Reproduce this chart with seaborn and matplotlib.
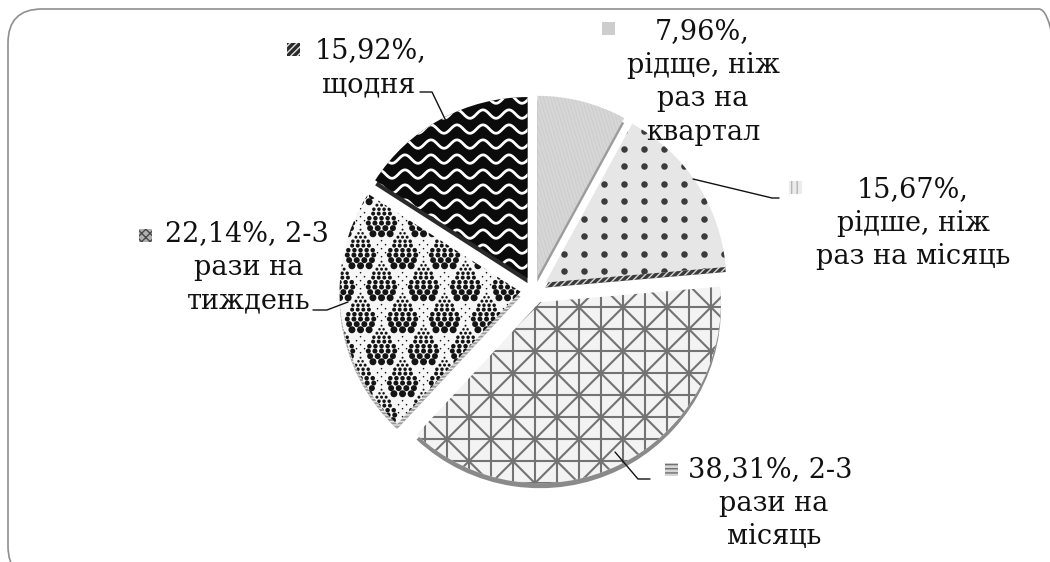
import numpy as np
import matplotlib
matplotlib.use("Agg")
import matplotlib.pyplot as plt
import seaborn as sns
from matplotlib.patches import Wedge, FancyBboxPatch, Rectangle
from matplotlib.collections import LineCollection

# --- data -------------------------------------------------------------
shares = [7.96, 15.67, 38.31, 22.14, 15.92]
categories = [
    "\nрідще, ніж\nраз на\nквартал",
    "\nрідше, ніж\nраз на місяць",
    " 2-3\nрази на\nмісяць",
    " 2-3\nрази на\nтиждень",
    "\nщодня",
]

# --- canvas -----------------------------------------------------------
sns.set_theme(style="white")
plt.rcParams["font.family"] = ["DejaVu Serif", "DejaVu Sans"]

W, H = 1050, 562
S = 181.0              # pixels per pie radius
CX, CY = 534.0, 290.0  # pie centre in pixels


def P(px, py):
    return ((px - CX) / S, (CY - py) / S)


def L(px):
    return px / S


def pt(px):
    return px * 72.0 / 100.0


fig = plt.figure(figsize=(W / 100, H / 100), dpi=100)
ax = fig.add_axes([0, 0, 1, 1])

face = ["#d6d6d6", "#e6e6e6", "#f3f3f3", "#f6f6f6", "#0b0b0b"]
side = ["#9c9c9c", "#3a3a3a", "#8a8a8a", "#9a9a9a", "#2a2a2a"]

wedges, _ = ax.pie(shares, startangle=90, counterclock=False,
                   explode=[0.075] * len(shares), radius=1.0,
                   colors=face, wedgeprops=dict(linewidth=0, zorder=2))

# --- pie thickness ---------------------------------------------------
T = 5
for i, (w, c) in enumerate(zip(wedges, side)):
    sh = Wedge((w.center[0], w.center[1] - L(T)), w.r, w.theta1, w.theta2,
               facecolor=c, edgecolor="none", zorder=1)
    ax.add_patch(sh)
    if i == 1:
        sh.set_hatch("/////")
        sh.set_edgecolor("#d8d8d8")
        sh.set_linewidth(0)
    if i == 3:
        sh.set_hatch("-----")
        sh.set_edgecolor("#e8e8e8")
        sh.set_linewidth(0)


def bbox(w):
    cx, cy = w.center
    return cx - w.r, cx + w.r, cy - w.r, cy + w.r


def clip(artist, w):
    artist.set_clip_path(w)
    artist.set_zorder(3)
    ax.add_artist(artist)


# slice 1: fine grain lines
w = wedges[0]
x0, x1, y0, y1 = bbox(w)
segs = []
for xs in np.arange(x0 - 1, x1 + 0.2, L(3.5)):
    segs.append([(xs, y1), (xs + 0.3 * (y1 - y0), y0)])
clip(LineCollection(segs, colors="#c4c4c4", linewidths=0.45, alpha=0.7), w)

# slice 2: dot grid
w = wedges[1]
x0, x1, y0, y1 = bbox(w)
gx, gy = np.meshgrid(np.arange(x0, x1, L(20)), np.arange(y0, y1, L(17.5)))
sc = ax.scatter(gx.ravel(), gy.ravel(), s=pt(6.5) ** 2, color="#3b3b3b",
                linewidths=0)
sc.set_clip_path(w)
sc.set_zorder(3)

# slice 3: square grid with diagonals
w = wedges[2]
x0, x1, y0, y1 = bbox(w)
g = L(22)
span = max(x1 - x0, y1 - y0)
segs = []
for k in range(int(span / g) + 2):
    segs.append([(x0 + k * g, y0), (x0 + k * g, y1)])
    segs.append([(x0, y0 + k * g), (x1, y0 + k * g)])
for k in range(-int(span / g) - 2, int(span / g) + 3):
    b = 2 * g * k
    segs.append([(x0, y0 + b), (x0 + 2 * span, y0 + b + 2 * span)])
    segs.append([(x0, y0 + b), (x0 + 2 * span, y0 + b - 2 * span)])
clip(LineCollection(segs, colors="#737373", linewidths=1.5), w)

# slice 4: drops made of dots
w = wedges[3]
x0, x1, y0, y1 = bbox(w)
rows = [(1, 2.0), (2, 2.5), (3, 3.0), (4, 3.5), (4, 4.0),
        (5, 4.5), (5, 5.0), (4, 6.0), (3, 7.0)]
tx, ty, ts = [], [], []
yy = -19.0
for n, d in rows:
    step = d + 1.6
    for i in range(n):
        tx.append((i - (n - 1) / 2) * step)
        ty.append(-yy)
        ts.append(d)
    yy += d / 2 + 2.6
tx, ty, ts = map(np.array, (tx, ty, ts))
px_, py_, ps_ = [], [], []
for j, cy_ in enumerate(np.arange(y0, y1 + L(40), L(32))):
    off = L(21) if j % 2 else 0
    for cx_ in np.arange(x0 + off, x1 + L(40), L(42)):
        px_.extend(cx_ + L(tx))
        py_.extend(cy_ + L(ty))
        ps_.extend(pt(ts) ** 2)
        # tiny filler dots between drops
        for ddx, ddy in [(21, 8), (21, 0), (21, -8), (17, 4), (25, 4),
                         (17, -4), (25, -4)]:
            px_.append(cx_ + L(ddx))
            py_.append(cy_ + L(ddy))
            ps_.append(pt(1.6) ** 2)
sc = ax.scatter(px_, py_, s=ps_, color="#141414", linewidths=0)
sc.set_clip_path(w)
sc.set_zorder(3)

# slice 5: white waves on black
w = wedges[4]
x0, x1, y0, y1 = bbox(w)
xs = np.linspace(x0, x1, 500)
segs = []
for yk in np.arange(y0, y1 + L(15), L(15)):
    ys = yk + L(4.2) * np.sin(2 * np.pi * (xs - x0) / L(26))
    segs.append(np.column_stack([xs, ys]))
clip(LineCollection(segs, colors="white", linewidths=2.0), w)

# --- labels ------------------------------------------------------------
first_xy = [(702, 32), (913, 190), (770, 470), (247, 234), (371, 51)]
rest_x = [703, 913, 774, 249, 369]
key_xy = [(608, 28), (795, 187), (671, 469), (145, 235), (293, 49)]
key_style = [
    dict(facecolor="#cdcdcd", hatch=None, edgecolor="#cdcdcd"),
    dict(facecolor="#ececec", hatch="|||", edgecolor="#b5b5b5"),
    dict(facecolor="#d5d5d5", hatch="----", edgecolor="#6f6f6f"),
    dict(facecolor="#b0b0b0", hatch="xxxx", edgecolor="#4a4a4a"),
    dict(facecolor="#2a2a2a", hatch="/////", edgecolor="#e0e0e0"),
]
LS = 33.5
for v, cat, (fx, fy), rx, (kx, ky), ks in zip(shares, categories, first_xy,
                                              rest_x, key_xy, key_style):
    text = f"{v:.2f}%".replace(".", ",") + "," + cat
    lines = text.split("\n")
    for i, line in enumerate(lines):
        x = fx if i == 0 else rx
        ax.text(*P(x, fy + i * LS), line.strip(), ha="center", va="center",
                fontsize=19.5, color="#111111", zorder=5)
    k = Rectangle(P(kx - 6.5, ky + 6.5), L(13), L(13), linewidth=0, zorder=5,
                  **ks)
    ax.add_patch(k)

leaders = [
    [(693, 179), (772, 198), (779, 198)],
    [(615, 452), (638, 479), (650, 479)],
    [(348, 302), (327, 310), (313, 310)],
    [(446, 121), (432, 92), (420, 92)],
]
for seg in leaders:
    xy = np.array([P(*p) for p in seg])
    ax.plot(xy[:, 0], xy[:, 1], color="#111111", lw=1.0, zorder=4)

# --- rounded frame -----------------------------------------------------
frame = FancyBboxPatch(P(8, 580), L(1065), L(571),
                       boxstyle=f"round,pad=0,rounding_size={L(34)}",
                       facecolor="none", edgecolor="#8f8f8f", linewidth=1.2,
                       zorder=0)
ax.add_patch(frame)

ax.set_xlim(-CX / S, (W - CX) / S)
ax.set_ylim(-(H - CY) / S, CY / S)
ax.set_aspect("equal")
ax.axis("off")

fig.savefig("out.png", dpi=100)
